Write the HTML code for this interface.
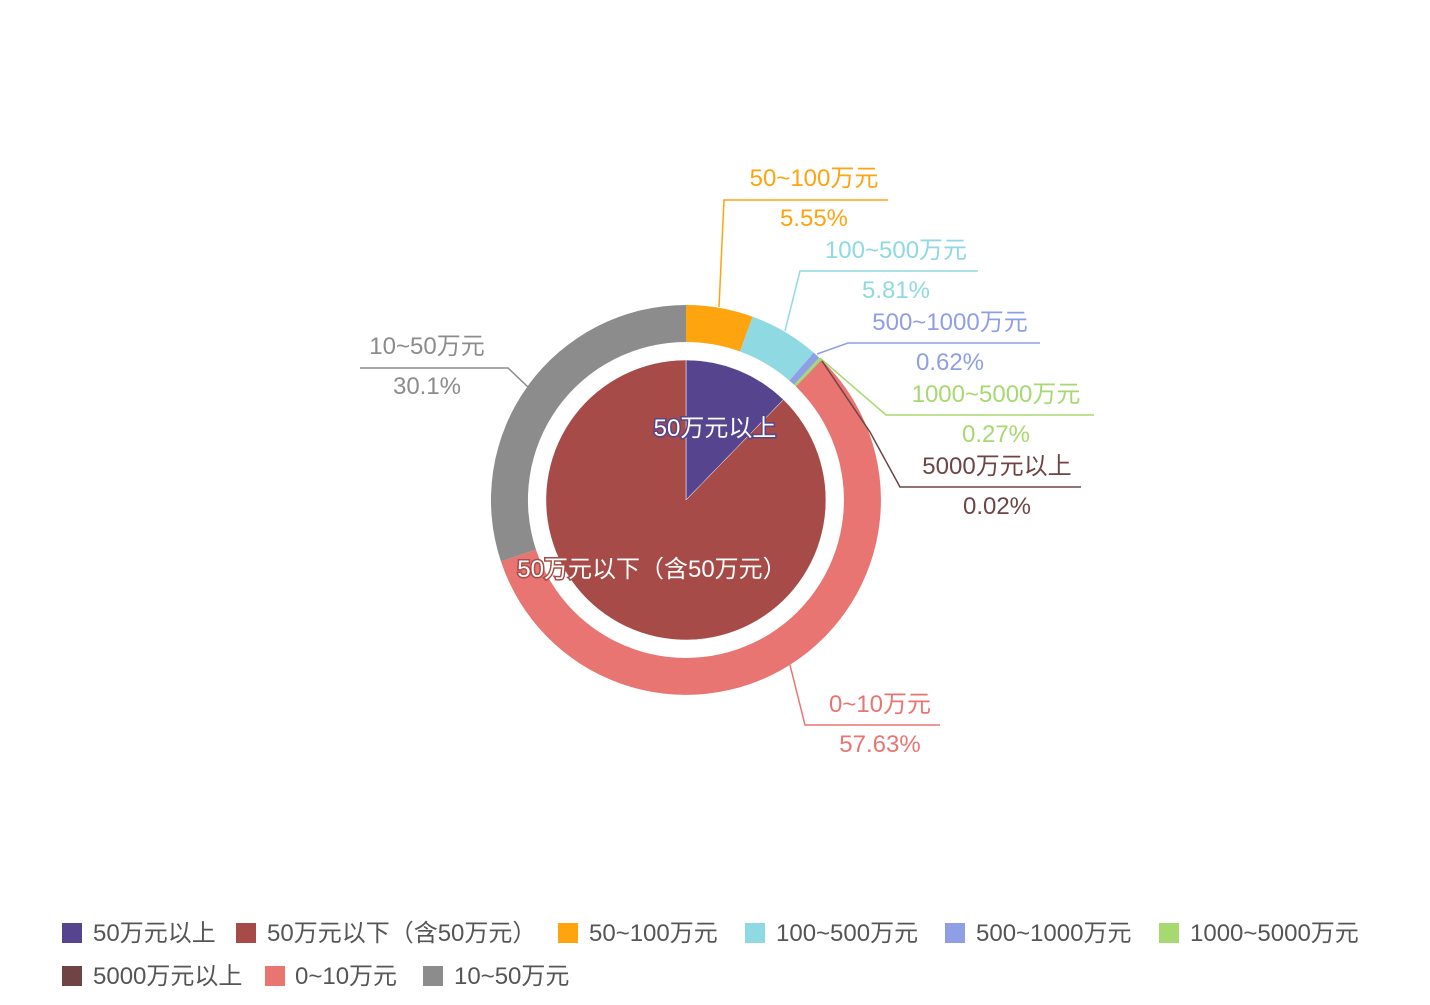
<!DOCTYPE html>
<html><head><meta charset="utf-8"><style>
body{margin:0;background:#fff;}
svg text{font-family:"Liberation Sans","Noto Sans CJK SC",sans-serif;font-size:24px;}
</style></head><body>
<svg width="1430" height="1000" viewBox="0 0 1430 1000" xmlns="http://www.w3.org/2000/svg">
<path d="M686,500 L686,360 A140,140 0 0,1 783.5,399.6 Z" fill="#56448e" stroke="#fff" stroke-width="0.5"/>
<path d="M686,500 L783.5,399.6 A140,140 0 1,1 686,360 Z" fill="#a64b47" stroke="#fff" stroke-width="0.5"/>
<path d="M686,305 A195,195 0 0,1 752.6,316.7 L740,351.5 A158,158 0 0,0 686,342 Z" fill="#fea40f"/>
<path d="M752.6,316.7 A195,195 0 0,1 813.7,352.6 L789.4,380.6 A158,158 0 0,0 740,351.5 Z" fill="#8ed9e2"/>
<path d="M813.7,352.6 A195,195 0 0,1 819.3,357.7 L794,384.7 A158,158 0 0,0 789.4,380.6 Z" fill="#8f9fe6"/>
<path d="M819.3,357.7 A195,195 0 0,1 821.7,360 L796,386.5 A158,158 0 0,0 794,384.7 Z" fill="#a6d96f"/>
<path d="M821.7,360 A195,195 0 0,1 821.9,360.1 L796.1,386.7 A158,158 0 0,0 796,386.5 Z" fill="#6e4444"/>
<path d="M821.9,360.1 A195,195 0 1,1 500.9,561.4 L536,549.8 A158,158 0 1,0 796.1,386.7 Z" fill="#e87571"/>
<path d="M500.9,561.4 A195,195 0 0,1 686,305 L686,342 A158,158 0 0,0 536,549.8 Z" fill="#8c8c8c"/>
<g fill="none" stroke-width="1.5">
<polyline points="719,307 724,200 888,200" stroke="#fea40f"/>
<polyline points="785,331 800,271 978,271" stroke="#8ed9e2"/>
<polyline points="817,354 848,343 1040,343" stroke="#8f9fe6"/>
<polyline points="820,358 886,415 1094,415" stroke="#a6d96f"/>
<polyline points="822,361 870,432 900,487 1081,487" stroke="#6e4444"/>
<polyline points="790,665 805,725 940,725" stroke="#e87571"/>
<polyline points="528,387 508,368 360,368" stroke="#8c8c8c"/>
</g>
<g text-anchor="middle">
<text x="814" y="186" fill="#fea40f">50~100万元</text><text x="814" y="226" fill="#fea40f">5.55%</text>
<text x="896" y="258" fill="#8ed9e2">100~500万元</text><text x="896" y="298" fill="#8ed9e2">5.81%</text>
<text x="950" y="330" fill="#8f9fe6">500~1000万元</text><text x="950" y="370" fill="#8f9fe6">0.62%</text>
<text x="996" y="402" fill="#a6d96f">1000~5000万元</text><text x="996" y="442" fill="#a6d96f">0.27%</text>
<text x="997" y="474" fill="#6e4444">5000万元以上</text><text x="997" y="514" fill="#6e4444">0.02%</text>
<text x="880" y="712" fill="#e87571">0~10万元</text><text x="880" y="752" fill="#e87571">57.63%</text>
<text x="427" y="354" fill="#8c8c8c">10~50万元</text><text x="427" y="394" fill="#8c8c8c">30.1%</text>
<text x="715" y="436" fill="#fff" stroke="#56448e" stroke-width="3" paint-order="stroke">50万元以上</text>
<text x="652" y="577" fill="#fff" stroke="#a64b47" stroke-width="3" paint-order="stroke">50万元以下（含50万元）</text>
</g>
<g>
<rect x="62" y="923" width="20" height="20" fill="#56448e"/><text x="93" y="941" fill="#555">50万元以上</text>
<rect x="236" y="923" width="20" height="20" fill="#a64b47"/><text x="267" y="941" fill="#555">50万元以下（含50万元）</text>
<rect x="558" y="923" width="20" height="20" fill="#fea40f"/><text x="589" y="941" fill="#555">50~100万元</text>
<rect x="745" y="923" width="20" height="20" fill="#8ed9e2"/><text x="776" y="941" fill="#555">100~500万元</text>
<rect x="945" y="923" width="20" height="20" fill="#8f9fe6"/><text x="976" y="941" fill="#555">500~1000万元</text>
<rect x="1159" y="923" width="20" height="20" fill="#a6d96f"/><text x="1190" y="941" fill="#555">1000~5000万元</text>
<rect x="62" y="966" width="20" height="20" fill="#6e4444"/><text x="93" y="984" fill="#555">5000万元以上</text>
<rect x="265" y="966" width="20" height="20" fill="#e87571"/><text x="295" y="984" fill="#555">0~10万元</text>
<rect x="423" y="966" width="20" height="20" fill="#8c8c8c"/><text x="454" y="984" fill="#555">10~50万元</text>
</g>
</svg>
</body></html>
